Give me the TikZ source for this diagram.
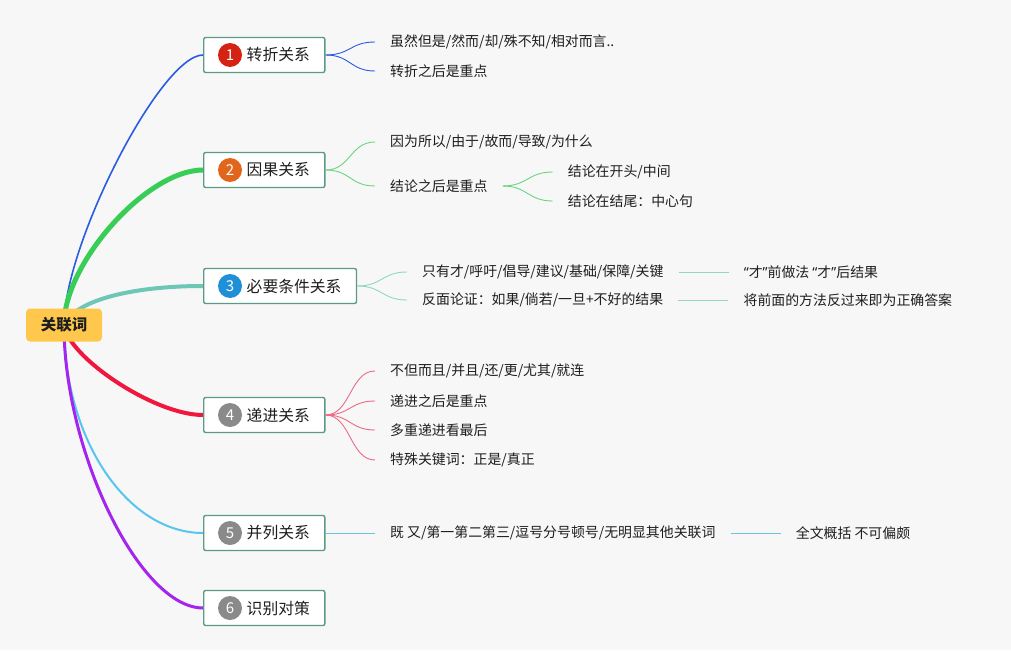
\documentclass[tikz,border=0pt]{standalone}
\usepackage{fontspec}
\setmainfont{Noto Sans CJK SC}
\newfontfamily\latina{Noto Sans}
\usetikzlibrary{positioning, backgrounds}
\definecolor{colFondo}{HTML}{F7F7F7}
\definecolor{colTexto}{HTML}{1E1E1E}
\definecolor{colRaiz}{HTML}{FFC84C}
\definecolor{colBorde}{HTML}{5B9A86}
\definecolor{colNumRojo}{HTML}{D42312}
\definecolor{colNumNaranja}{HTML}{E1661C}
\definecolor{colNumAzul}{HTML}{1F8FD7}
\definecolor{colNumGris}{HTML}{8A8A8A}
\definecolor{colAzul}{HTML}{2A5BE0}
\definecolor{colVerde}{HTML}{37CD57}
\definecolor{colVerdeClaro}{HTML}{6AD483}
\definecolor{colTurquesa}{HTML}{6EC6B4}
\definecolor{colTurquesaClaro}{HTML}{93D5C8}
\definecolor{colRojo}{HTML}{F0173F}
\definecolor{colRojoClaro}{HTML}{EE6A84}
\definecolor{colCeleste}{HTML}{57C5F0}
\definecolor{colCelesteClaro}{HTML}{6CC6DA}
\definecolor{colMorado}{HTML}{A426EE}
\newcommand{\comillas}[1]{{\latina “}#1{\latina ”}}
\tikzset{
  cajaRaiz/.style={
    fill=colRaiz, rounded corners=4pt,
    minimum width=76pt, minimum height=33pt, inner sep=0pt,
    font=\fontsize{15.5}{18}\selectfont\bfseries, text=colTexto
  },
  cajaTema/.style={
    draw=colBorde, line width=1.4pt, fill=white, rounded corners=2pt,
    anchor=west, minimum height=35pt, inner xsep=15pt, inner ysep=0pt,
    font=\fontsize{15.8}{18}\selectfont, text=colTexto
  },
  numero/.style={circle, minimum size=24pt, inner sep=0pt,
    text=white, font=\fontsize{15}{15}\selectfont},
  hoja/.style={anchor=west, inner xsep=15pt, inner ysep=2pt,
    font=\fontsize{13.9}{16}\selectfont, text=colTexto},
  rama/.style={line cap=round},
  ramita/.style={line width=0.9pt},
}

\begin{document}
\begin{tikzpicture}[x=1pt, y=-1pt]
  \useasboundingbox (0,0) rectangle (1011,650);

  % centro y temas
  \node[cajaRaiz] (raiz) at (64,325) {关联词};
  \node[cajaTema] (tema1) at (203,55) {\hspace*{28pt}转折关系};
  \node[cajaTema] (tema2) at (203,170) {\hspace*{28pt}因果关系};
  \node[cajaTema] (tema3) at (203,286) {\hspace*{28pt}必要条件关系};
  \node[cajaTema] (tema4) at (203,415) {\hspace*{28pt}递进关系};
  \node[cajaTema] (tema5) at (203,533) {\hspace*{28pt}并列关系};
  \node[cajaTema] (tema6) at (203,608) {\hspace*{28pt}识别对策};

  \node[numero, fill=colNumRojo] (num1) at ([xshift=27pt]tema1.west) {1};
  \node[numero, fill=colNumNaranja] (num2) at ([xshift=27pt]tema2.west) {2};
  \node[numero, fill=colNumAzul] (num3) at ([xshift=27pt]tema3.west) {3};
  \node[numero, fill=colNumGris] (num4) at ([xshift=27pt]tema4.west) {4};
  \node[numero, fill=colNumGris] (num5) at ([xshift=27pt]tema5.west) {5};
  \node[numero, fill=colNumGris] (num6) at ([xshift=27pt]tema6.west) {6};

  % hojas
  \node[hoja] (hoja11) at (375,42) {虽然但是/然而/却/殊不知/相对而言..};
  \node[hoja] (hoja12) at (375,71) {转折之后是重点};

  \node[hoja] (hoja21) at (375,142) {因为所以/由于/故而/导致/为什么};
  \node[hoja] (hoja22) at (375,186) {结论之后是重点};
  \node[hoja, right=50pt of hoja22, yshift=14pt] (hoja221) {结论在开头/中间};
  \node[hoja, right=50pt of hoja22, yshift=-15pt] (hoja222) {结论在结尾：中心句};

  \node[hoja] (hoja31) at (407,272) {只有才/呼吁/倡导/建议/基础/保障/关键};
  \node[hoja] (hoja32) at (407,300) {反面论证：如果/倘若/一旦+不好的结果};
  \node[hoja, right=50pt of hoja31] (hoja311) {\comillas{才}前做法 \comillas{才}后结果};
  \node[hoja, right=50pt of hoja32] (hoja321) {将前面的方法反过来即为正确答案};

  \node[hoja] (hoja41) at (375,371) {不但而且/并且/还/更/尤其/就连};
  \node[hoja] (hoja42) at (375,401) {递进之后是重点};
  \node[hoja] (hoja43) at (375,430) {多重递进看最后};
  \node[hoja] (hoja44) at (375,460) {特殊关键词：正是/真正};

  \node[hoja] (hoja51) at (375,533) {既 又/第一第二第三/逗号分号顿号/无明显其他关联词};
  \node[hoja, right=50pt of hoja51] (hoja511) {全文概括 不可偏颇};

  % ramas principales
  \begin{scope}[on background layer]
    \fill[colFondo] (0,0) rectangle (1011,650);
    \draw[rama, colAzul, line width=1.6pt] (raiz.center) .. controls (64,244) and (161,55) .. (tema1.west);
    \draw[rama, colVerde, line width=5pt] (raiz.center) .. controls (64,263) and (147,170) .. (tema2.west);
    \draw[rama, colTurquesa, line width=4pt] (raiz.center) .. controls (75,300) and (133,286) .. (tema3.west);
    \draw[rama, colRojo, line width=4pt] (raiz.center) .. controls (68,357) and (154,415) .. (tema4.west);
    \draw[rama, colCeleste, line width=2pt] (raiz.center) .. controls (64,439) and (127,533) .. (tema5.west);
    \draw[rama, colMorado, line width=3pt] (raiz.center) .. controls (64,452) and (140,608) .. (tema6.west);
  \end{scope}

  % ramas secundarias
  \foreach \h in {hoja11, hoja12}
    \draw[ramita, colAzul] (tema1.east) .. controls +(25,0) and +(-25,0) .. (\h.west);
  \foreach \h in {hoja21, hoja22}
    \draw[ramita, colVerdeClaro] (tema2.east) .. controls +(25,0) and +(-25,0) .. (\h.west);
  \foreach \h in {hoja221, hoja222}
    \draw[ramita, colVerdeClaro] (hoja22.east) .. controls +(25,0) and +(-25,0) .. (\h.west);
  \foreach \h in {hoja31, hoja32}
    \draw[ramita, colTurquesaClaro] (tema3.east) .. controls +(25,0) and +(-25,0) .. (\h.west);
  \draw[ramita, colTurquesaClaro] (hoja31) -- (hoja311);
  \draw[ramita, colTurquesaClaro] (hoja32) -- (hoja321);
  \foreach \h in {hoja41, hoja42, hoja43, hoja44}
    \draw[ramita, colRojoClaro] (tema4.east) .. controls +(25,0) and +(-25,0) .. (\h.west);
  \draw[ramita, colCelesteClaro] (tema5) -- (hoja51);
  \draw[ramita, colCelesteClaro] (hoja51) -- (hoja511);
\end{tikzpicture}
\end{document}
